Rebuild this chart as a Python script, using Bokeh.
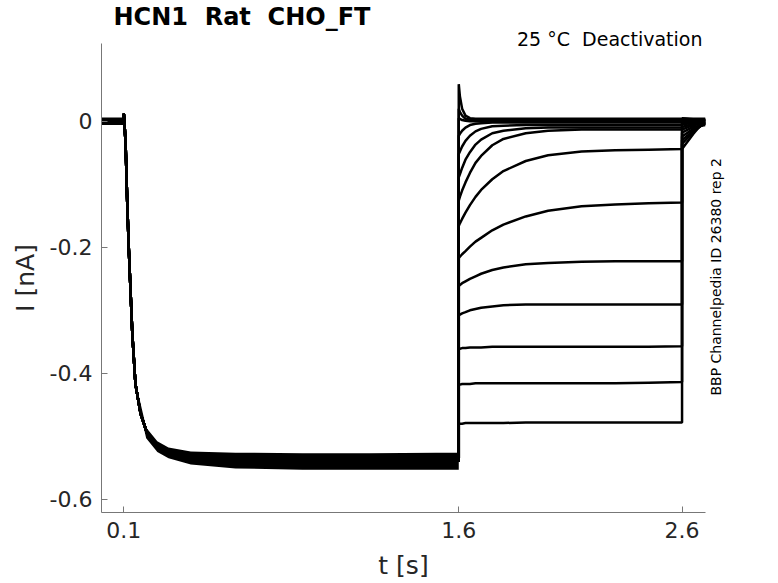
import math
from bokeh.plotting import figure
from bokeh.models import Range1d, FixedTicker, ColumnDataSource, Title, LinearAxis
from bokeh.embed import file_html
from bokeh.resources import INLINE

# ---------------- data ----------------
# activation phase (common to all sweeps)
t_act = [0.0, 0.05, 0.099, 0.1, 0.104, 0.108, 0.115, 0.122, 0.138, 0.152, 0.175,
         0.205, 0.25, 0.3, 0.384, 0.5, 0.7, 1.0, 1.3, 1.6]
i_act = [0.0, 0.0, 0.0, 0.012, -0.01, -0.036, -0.126, -0.2, -0.337, -0.417, -0.464,
         -0.496, -0.517, -0.526, -0.532, -0.536, -0.538, -0.539, -0.539, -0.539]

# noise envelope of the overlaid sweeps
t_base = [0.0, 0.099]
base_hi = [0.006, 0.006]
base_lo = [-0.006, -0.006]
t_band = [0.14, 0.16, 0.2, 0.25, 0.3, 0.4, 0.6, 0.9, 1.2, 1.5, 1.6]
band_hi = [-0.345, -0.425, -0.486, -0.508, -0.518, -0.524, -0.526, -0.527, -0.527, -0.526, -0.526]
band_lo = [-0.355, -0.44, -0.503, -0.525, -0.535, -0.545, -0.551, -0.553, -0.553, -0.553, -0.553]

# deactivation steps
t_deact = [1.6, 1.605, 1.615, 1.63, 1.65, 1.675, 1.7, 1.75, 1.8, 1.9, 2.0, 2.15, 2.3, 2.45, 2.6]
d01 = [0.059, 0.040, 0.020, 0.009, 0.005, 0.004, 0.004, 0.004, 0.004, 0.004, 0.004, 0.004, 0.004, 0.004, 0.004]
d02 = [0.020, 0.015, 0.009, 0.004, 0.003, 0.002, 0.002, 0.002, 0.002, 0.002, 0.002, 0.002, 0.002, 0.002, 0.002]
d03 = [0.005, 0.004, 0.002, 0.001, 0.000, 0.000, 0.000, 0.000, 0.000, 0.000, 0.000, 0.000, 0.000, 0.000, 0.000]
d04 = [-0.023, -0.020, -0.015, -0.010, -0.006, -0.004, -0.003, -0.002, -0.002, -0.002, -0.002, -0.002, -0.002, -0.002, -0.002]
d05 = [-0.052, -0.048, -0.040, -0.031, -0.023, -0.016, -0.012, -0.008, -0.007, -0.006, -0.006, -0.006, -0.006, -0.006, -0.006]
d06 = [-0.089, -0.084, -0.074, -0.061, -0.049, -0.037, -0.029, -0.019, -0.015, -0.011, -0.010, -0.010, -0.010, -0.010, -0.010]
d07 = [-0.126, -0.120, -0.110, -0.097, -0.082, -0.066, -0.055, -0.038, -0.028, -0.019, -0.015, -0.013, -0.013, -0.013, -0.013]
d08 = [-0.166, -0.162, -0.155, -0.145, -0.133, -0.120, -0.109, -0.092, -0.079, -0.063, -0.054, -0.048, -0.046, -0.045, -0.044]
d09 = [-0.217, -0.215, -0.211, -0.206, -0.199, -0.191, -0.185, -0.173, -0.164, -0.151, -0.142, -0.135, -0.132, -0.130, -0.129]
d10 = [-0.261, -0.260, -0.257, -0.254, -0.250, -0.246, -0.242, -0.236, -0.232, -0.227, -0.225, -0.223, -0.222, -0.222, -0.222]
d11 = [-0.308, -0.307, -0.305, -0.303, -0.300, -0.298, -0.296, -0.294, -0.292, -0.291, -0.291, -0.291, -0.291, -0.291, -0.291]
d12 = [-0.361, -0.361, -0.360, -0.360, -0.359, -0.359, -0.359, -0.358, -0.358, -0.358, -0.358, -0.358, -0.358, -0.358, -0.357]
d13 = [-0.418, -0.418, -0.417, -0.417, -0.417, -0.416, -0.416, -0.416, -0.416, -0.416, -0.416, -0.416, -0.416, -0.415, -0.414]
d14 = [-0.480, -0.480, -0.480, -0.479, -0.479, -0.479, -0.479, -0.479, -0.479, -0.478, -0.478, -0.478, -0.478, -0.478, -0.478]

# return to holding
t_tail = [2.6, 2.65, 2.705]
e01 = [0.005, 0.004, 0.004]
e02 = [0.004, 0.003, 0.003]
e03 = [0.002, 0.002, 0.002]
e04 = [0.001, 0.001, 0.001]
e05 = [-0.001, 0.000, 0.000]
e06 = [-0.003, -0.001, -0.001]
e07 = [-0.005, -0.002, -0.002]
e08 = [-0.009, -0.004, -0.003]
e09 = [-0.013, -0.006, -0.004]
e10 = [-0.018, -0.009, -0.006]
e11 = [-0.024, -0.012, -0.004]
e12 = [-0.030, -0.015, -0.003]
e13 = [-0.036, -0.017, -0.001]
e14 = [-0.044, -0.020, 0.003]

deacts = [d01, d02, d03, d04, d05, d06, d07, d08, d09, d10, d11, d12, d13, d14]
tails = [e01, e02, e03, e04, e05, e06, e07, e08, e09, e10, e11, e12, e13, e14]

x_ticks = [0.1, 1.6, 2.6]
y_ticks = [-0.6, -0.4, -0.2, 0]
x_tick_labels = {0.1: "0.1", 1.6: "1.6", 2.6: "2.6"}
y_tick_labels = {-0.6: "-0.6", -0.4: "-0.4", -0.2: "-0.2", 0: "0"}

title_text = "HCN1 \u00a0Rat \u00a0CHO_FT"
cond_text = "25 °C \u00a0Deactivation"
id_text = "BBP Channelpedia ID 26380 rep 2"
id_pos = -0.4354

X0, X1 = 0.0, 2.705
Y0, Y1 = -0.621, 0.1235

# ---------------- figure ----------------
FONT = "DejaVu Sans"
AX = "#777777"
TXT = "#262626"

p = figure(width=778, height=583, output_backend="svg", toolbar_location=None,
           x_range=Range1d(X0, X1), y_range=Range1d(Y0, Y1),
           min_border_left=101, min_border_right=73, min_border_top=43, min_border_bottom=71,
           title_location=None)
p.outline_line_color = None
p.grid.visible = False
p.background_fill_color = "white"
p.border_fill_color = "white"

xs = [t_act + t_deact + t_tail for _ in deacts]
ys = [i_act + d + e for d, e in zip(deacts, tails)]
src = ColumnDataSource(dict(xs=xs, ys=ys))

p.varea(x=t_base, y1=base_lo, y2=base_hi, fill_color="black")
p.varea(x=t_band, y1=band_lo, y2=band_hi, fill_color="black")
p.multi_line(xs="xs", ys="ys", source=src, line_color="black", line_width=2.5)

# axes
for ax in (p.xaxis, p.yaxis):
    ax.axis_line_color = AX
    ax.axis_line_width = 1
    ax.major_tick_line_color = AX
    ax.major_tick_in = 6
    ax.major_tick_out = 0
    ax.minor_tick_line_color = None
    ax.major_label_text_font = FONT
    ax.major_label_text_font_size = "22px"
    ax.major_label_text_color = TXT
    ax.axis_label_text_font = FONT
    ax.axis_label_text_font_size = "25px"
    ax.axis_label_text_font_style = "normal"
    ax.axis_label_text_color = TXT

p.xaxis.bounds = (X0, X1)
p.yaxis.bounds = (Y0, Y1)
p.xaxis.ticker = FixedTicker(ticks=x_ticks)
p.yaxis.ticker = FixedTicker(ticks=y_ticks)
p.xaxis.major_label_overrides = x_tick_labels
p.yaxis.major_label_overrides = y_tick_labels
p.xaxis.axis_label = "t [s]"
p.yaxis.axis_label = "I [nA]"
p.xaxis.major_label_standoff = 9
p.xaxis.axis_label_standoff = 10
p.yaxis.major_label_standoff = 9
p.yaxis.axis_label_standoff = 7

# right-hand vertical identifier
rax = LinearAxis(ticker=FixedTicker(ticks=[id_pos]), major_label_overrides={id_pos: id_text},
                 major_label_orientation=math.pi / 2, axis_line_color=None,
                 major_tick_line_color=None, minor_tick_line_color=None,
                 major_tick_in=0, major_tick_out=0, major_label_standoff=11,
                 major_label_text_font=FONT, major_label_text_font_size="14px",
                 major_label_text_color="black")
p.add_layout(rax, "right")

# titles: condition (closest to frame) and main title
cond = Title(text=cond_text, align="right", offset=3, standoff=-12,
             text_font=FONT, text_font_size="19px", text_font_style="normal",
             text_color="black")
main = Title(text=title_text, align="left", offset=12, standoff=1,
             text_font=FONT, text_font_size="24px", text_font_style="bold",
             text_color="black")
p.add_layout(cond, "above")
p.add_layout(main, "above")

open("out.html", "w").write(file_html(p, INLINE))
